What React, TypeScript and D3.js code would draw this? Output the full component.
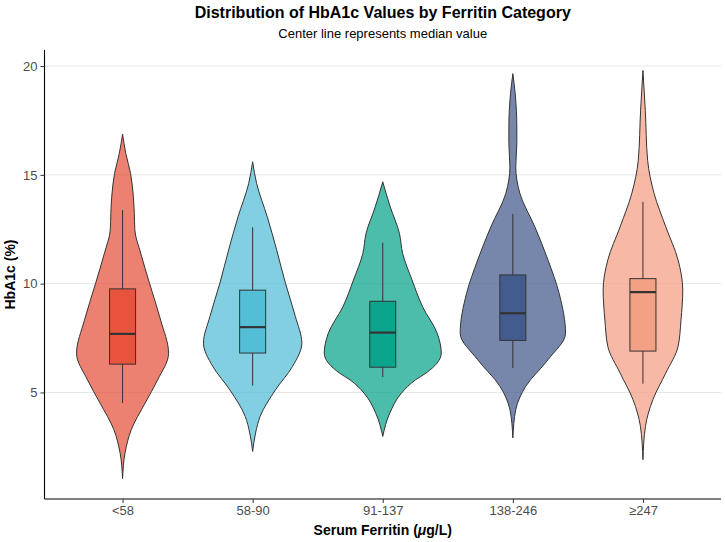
import React, { useEffect, useRef } from "react";
import * as d3 from "d3";

// categories and colours (npg palette)
const categories = ["<58", "58-90", "91-137", "138-246", "≥247"];
const colors = ["#E64B35", "#4DBBD5", "#00A087", "#3C5488", "#F39B7F"];

// box plot stats (HbA1c %)
const whiskerLow = [4.51, 5.31, 5.71, 6.12, 5.4];
const q1Values = [6.3, 6.81, 6.16, 7.39, 6.9];
const medianValues = [7.69, 8.0, 7.75, 8.64, 9.61];
const q3Values = [9.76, 9.7, 9.19, 10.4, 10.23];
const whiskerHigh = [13.38, 12.59, 11.88, 13.2, 13.76];

// violin outlines: [HbA1c, relative density]
const densityLt58 = [
  [1.04, 0], [2.23, 0.043], [3.29, 0.149], [4.51, 0.385], [5.57, 0.598],
  [6.8, 0.786], [8.33, 0.65], [10.02, 0.46], [11.4, 0.31], [12.46, 0.21],
  [13.23, 0.2], [13.99, 0.185], [15.06, 0.137], [15.98, 0.056], [16.87, 0],
];
const density58to90 = [
  [2.29, 0], [3.14, 0.05], [3.9, 0.128], [5.12, 0.39], [6.19, 0.68],
  [7.27, 0.84], [8.49, 0.73], [10.02, 0.56], [11.55, 0.41], [13.07, 0.25],
  [14.6, 0.068], [15.6, 0],
];
const density91to137 = [
  [2.98, 0], [4.05, 0.12], [4.97, 0.32], [5.58, 0.56], [5.89, 0.74],
  [6.81, 1.0], [7.72, 0.93], [8.94, 0.68], [10.17, 0.5], [11.39, 0.34],
  [12.31, 0.285], [13.53, 0.128], [14.68, 0],
];
const density138to246 = [
  [2.91, 0], [4.21, 0.05], [5.28, 0.22], [6.5, 0.6], [7.72, 0.9],
  [9.56, 0.79], [11.09, 0.6], [12.61, 0.376], [14.15, 0.12], [15.37, 0.05],
  [16.44, 0.068], [17.2, 0.068], [18.73, 0.04], [19.65, 0],
];
const densityGe247 = [
  [1.91, 0], [3.44, 0.043], [4.67, 0.17], [5.89, 0.39], [7.11, 0.6],
  [8.33, 0.65], [9.71, 0.68], [11.09, 0.6], [12.61, 0.39], [14.15, 0.19],
  [15.67, 0.08], [17.97, 0.04], [19.8, 0],
];
const densities = [densityLt58, density58to90, density91to137, density138to246, densityGe247];

const yTicks = [5, 10, 15, 20];

const FONT = "'Liberation Sans', Arial, Helvetica, sans-serif";

const ViolinChart = () => {
  const ref = useRef<SVGSVGElement>(null);

  useEffect(() => {
    const width = 725;
    const height = 542;
    const margin = { top: 50, right: 4, bottom: 43, left: 44.5 };

    const svg = d3.select(ref.current);
    svg.selectAll("*").remove();
    svg.attr("width", width).attr("height", height);

    const allVals = densities.flat().map((d) => d[0]);
    const lo = d3.min(allVals) as number;
    const hi = d3.max(allVals) as number;
    const pad = (hi - lo) * 0.05;

    const x = d3
      .scalePoint()
      .domain(categories)
      .range([margin.left, width - margin.right])
      .padding(0.6);
    const y = d3
      .scaleLinear()
      .domain([lo - pad, hi + pad])
      .range([height - margin.bottom, margin.top]);
    const w = d3.scaleLinear().domain([0, 1]).range([0, x.step() * 0.45]);

    // grid
    svg
      .append("g")
      .selectAll("line")
      .data(yTicks)
      .enter()
      .append("line")
      .attr("x1", margin.left)
      .attr("x2", width - margin.right)
      .attr("y1", (d) => y(d))
      .attr("y2", (d) => y(d))
      .attr("stroke", "#e6e6e6")
      .attr("stroke-width", 1);

    // violins
    categories.forEach((cat, i) => {
      const cx = x(cat) as number;
      const area = d3
        .area<number[]>()
        .y((d) => y(d[0]))
        .x0((d) => cx - w(d[1]))
        .x1((d) => cx + w(d[1]))
        .curve(d3.curveMonotoneY);
      svg
        .append("path")
        .attr("d", area(densities[i]))
        .attr("fill", colors[i])
        .attr("fill-opacity", 0.7)
        .attr("stroke", "#333")
        .attr("stroke-width", 1);
    });

    // boxes
    const bw = x.step() * 0.2;
    categories.forEach((cat, i) => {
      const cx = x(cat) as number;
      const g = svg.append("g");
      g.append("line")
        .attr("x1", cx).attr("x2", cx)
        .attr("y1", y(whiskerHigh[i])).attr("y2", y(q3Values[i]))
        .attr("stroke", "#333").attr("stroke-width", 1);
      g.append("line")
        .attr("x1", cx).attr("x2", cx)
        .attr("y1", y(q1Values[i])).attr("y2", y(whiskerLow[i]))
        .attr("stroke", "#333").attr("stroke-width", 1);
      g.append("rect")
        .attr("x", cx - bw / 2)
        .attr("y", y(q3Values[i]))
        .attr("width", bw)
        .attr("height", y(q1Values[i]) - y(q3Values[i]))
        .attr("fill", colors[i])
        .attr("fill-opacity", 0.85)
        .attr("stroke", "#333")
        .attr("stroke-width", 1);
      g.append("line")
        .attr("x1", cx - bw / 2).attr("x2", cx + bw / 2)
        .attr("y1", y(medianValues[i])).attr("y2", y(medianValues[i]))
        .attr("stroke", "#333").attr("stroke-width", 2.2);
    });

    // axes
    const xAxis = svg
      .append("g")
      .attr("transform", `translate(0,${height - margin.bottom})`)
      .call(d3.axisBottom(x).tickSize(4).tickPadding(3));
    const yAxis = svg
      .append("g")
      .attr("transform", `translate(${margin.left},0)`)
      .call(d3.axisLeft(y).tickValues(yTicks).tickSize(4).tickPadding(3));

    [xAxis, yAxis].forEach((a) => {
      a.select(".domain").attr("stroke", "#000").attr("stroke-width", 1.1);
      a.selectAll(".tick line").attr("stroke", "#333");
      a.selectAll(".tick text")
        .attr("fill", "#4d4d4d")
        .attr("font-size", 13)
        .attr("font-family", FONT);
    });
    // extend the domain lines to the full panel (no outer ticks)
    xAxis.select(".domain").attr("d", `M${margin.left},0H${width - margin.right}`);
    yAxis.select(".domain").attr("d", `M0,${margin.top}V${height - margin.bottom}`);

    // titles
    const cxPanel = (margin.left + width - margin.right) / 2;
    svg
      .append("text")
      .attr("x", cxPanel)
      .attr("y", 18)
      .attr("text-anchor", "middle")
      .attr("font-family", FONT)
      .attr("font-size", 16)
      .attr("font-weight", "bold")
      .text("Distribution of HbA1c Values by Ferritin Category");
    svg
      .append("text")
      .attr("x", cxPanel)
      .attr("y", 38)
      .attr("text-anchor", "middle")
      .attr("font-family", FONT)
      .attr("font-size", 13)
      .text("Center line represents median value");

    const xt = svg
      .append("text")
      .attr("x", cxPanel)
      .attr("y", 535)
      .attr("text-anchor", "middle")
      .attr("font-family", FONT)
      .attr("font-size", 14)
      .attr("font-weight", "bold");
    xt.append("tspan").text("Serum Ferritin (");
    xt.append("tspan").attr("font-style", "italic").text("μ");
    xt.append("tspan").text("g/L)");

    svg
      .append("text")
      .attr("transform", `translate(15,${(margin.top + height - margin.bottom) / 2}) rotate(-90)`)
      .attr("text-anchor", "middle")
      .attr("font-family", FONT)
      .attr("font-size", 14)
      .attr("font-weight", "bold")
      .text("HbA1c (%)");
  }, []);

  return <svg ref={ref} style={{ position: "absolute", left: 0, top: 0 }}></svg>;
};

export default function App() {
  return <ViolinChart />;
}
